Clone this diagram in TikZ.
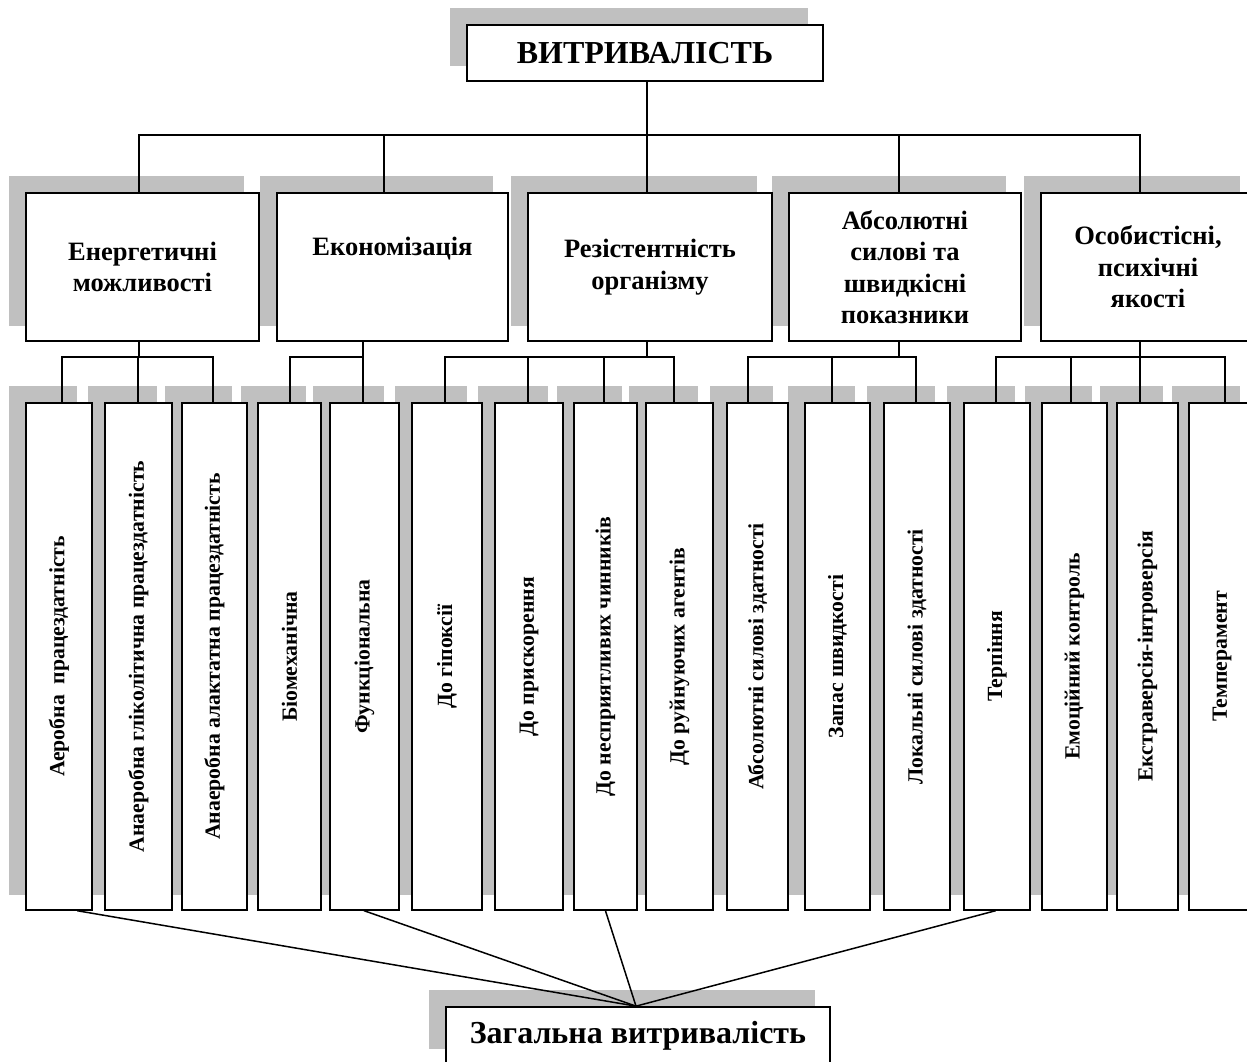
\documentclass[tikz,border=0pt]{standalone}
\usepackage{fontspec}
\setmainfont{Liberation Serif}
\usetikzlibrary{backgrounds,calc}
\definecolor{shadowgray}{RGB}{192,192,192}
\tikzset{
  boxstyle/.style={draw=black, line width=1.7pt, fill=white, inner sep=0pt, align=center},
  titlebox/.style={boxstyle, font=\bfseries\fontsize{32}{38}\selectfont},
  midbox/.style={boxstyle, minimum height=148pt, font=\bfseries\fontsize{26.5}{31.5}\selectfont},
  leafbox/.style={boxstyle, minimum height=507pt, font=\bfseries\fontsize{21.7}{26}\selectfont},
  conn/.style={line width=1.5pt, line cap=rect}
}
\newcommand{\vtext}[1]{\rotatebox{90}{#1}}
\begin{document}
\begin{tikzpicture}[x=1pt,y=-1pt]
\useasboundingbox (0,0) rectangle (1247,1062);
\clip (0,0) rectangle (1247,1062);

% title
\node[titlebox, minimum width=356pt, minimum height=56pt] (title) at (645,53) {ВИТРИВАЛІСТЬ};

% level 2
\node[midbox, minimum width=233pt] (L1) at (142.5,267) {Енергетичні\\можливості};
\node[midbox, minimum width=231pt] (L2) at (392.5,267) {Економізація\\\strut};
\node[midbox, minimum width=244pt] (L3) at (650,267) {Резістентність\\організму};
\node[midbox, minimum width=232pt] (L4) at (905,267) {Абсолютні\\силові та\\швидкісні\\показники};
\node[midbox, minimum width=214pt] (L5) at (1148,267) {Особистісні,\\психічні\\якості};

% leaves
\node[leafbox, minimum width=66pt] (a) at (59,656.5) {\vtext{Аеробна\ \ працездатність}};
\node[leafbox, minimum width=67pt] (b) at (138.5,656.5) {\vtext{Анаеробна гліколітична працездатність}};
\node[leafbox, minimum width=65pt] (c) at (214.5,656.5) {\vtext{Анаеробна алактатна працездатність}};
\node[leafbox, minimum width=63pt] (d) at (289.5,656.5) {\vtext{Біомеханічна}};
\node[leafbox, minimum width=69pt] (e) at (364.5,656.5) {\vtext{Функціональна}};
\node[leafbox, minimum width=70pt] (f) at (447,656.5) {\vtext{До гіпоксії}};
\node[leafbox, minimum width=68pt] (g) at (529,656.5) {\vtext{До прискорення}};
\node[leafbox, minimum width=63pt] (h) at (605.5,656.5) {\vtext{До несприятливих чинників}};
\node[leafbox, minimum width=67pt] (i) at (679.5,656.5) {\vtext{До руйнуючих агентів}};
\node[leafbox, minimum width=61pt] (j) at (757.5,656.5) {\vtext{Абсолютні силові здатності}};
\node[leafbox, minimum width=65pt] (k) at (837.5,656.5) {\vtext{Запас швидкості}};
\node[leafbox, minimum width=66pt] (l) at (917,656.5) {\vtext{Локальні силові здатності}};
\node[leafbox, minimum width=66pt] (m) at (997,656.5) {\vtext{Терпіння}};
\node[leafbox, minimum width=65pt] (n) at (1074.5,656.5) {\vtext{Емоційний контроль}};
\node[leafbox, minimum width=61pt] (o) at (1147.5,656.5) {\vtext{Екстраверсія-інтроверсія}};
\node[leafbox, minimum width=66pt] (p) at (1222,656.5) {\vtext{Темперамент}};

% bottom
\node[titlebox, minimum width=384pt, minimum height=57pt] (gen) at (638,1035.5) {Загальна витривалість};

% shadows
\begin{scope}[on background layer]
  \foreach \nm in {title,L1,L2,L3,L4,L5,a,b,c,d,e,f,g,h,i,j,k,l,m,n,o,p,gen}{
    \fill[shadowgray] ($(\nm.south west)+(-16,-16)$) rectangle ($(\nm.north east)+(-16,-16)$);
  }
\end{scope}

% level 1 connectors
\coordinate (t0) at (647,135);
\coordinate (t1) at (139,135);
\coordinate (t2) at (384,135);
\coordinate (t3) at (647,135);
\coordinate (t4) at (899,135);
\coordinate (t5) at (1140,135);
\draw[conn] (t0 |- title.south) -- (t0);
\draw[conn] (t1) -- (t5);
\foreach \k in {1,...,5}{
  \draw[conn] (t\k) -- (t\k |- L\k.north);
}

% level 2 connectors
\coordinate (b1) at (139,357);
\coordinate (b2) at (363,357);
\coordinate (b3) at (647,357);
\coordinate (b4) at (899,357);
\coordinate (b5) at (1140,357);
\foreach \k in {1,...,5}{
  \draw[conn] (b\k |- L\k.south) -- (b\k);
}
\coordinate (ca) at (62,357);
\coordinate (cb) at (138,357);
\coordinate (cc) at (213,357);
\coordinate (cd) at (290,357);
\coordinate (ce) at (363,357);
\coordinate (cf) at (445,357);
\coordinate (cg) at (528,357);
\coordinate (ch) at (604,357);
\coordinate (ci) at (674,357);
\coordinate (cj) at (748,357);
\coordinate (ck) at (832,357);
\coordinate (cl) at (916,357);
\coordinate (cm) at (996,357);
\coordinate (cn) at (1071,357);
\coordinate (co) at (1140,357);
\coordinate (cp) at (1225,357);
\draw[conn] (ca) -- (cc);
\draw[conn] (cd) -- (ce);
\draw[conn] (cf) -- (ci);
\draw[conn] (cj) -- (cl);
\draw[conn] (cm) -- (cp);
\foreach \q in {a,b,c,d,e,f,g,h,i,j,k,l,m,n,o,p}{
  \draw[conn] (c\q) -- (c\q |- \q.north);
}

% lines to general endurance
\coordinate (conv) at ($(gen.north)+(-2,0)$);
\draw[conn] ($(a.south)+(19,0)$) -- (conv);
\draw[conn] (e.south) -- (conv);
\draw[conn] (h.south) -- (conv);
\draw[conn] ($(m.south)+(-2,0)$) -- (conv);
\end{tikzpicture}
\end{document}
